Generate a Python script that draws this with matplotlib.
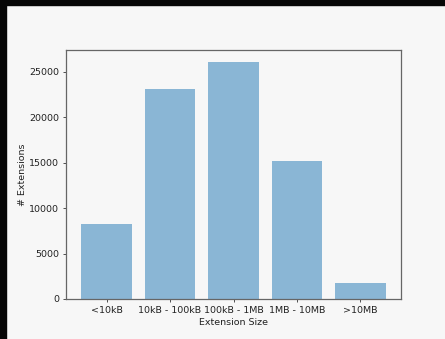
"""Extension size histogram as a bar chart."""

import matplotlib

matplotlib.use("Agg")
import matplotlib.pyplot as plt
from matplotlib.patches import Rectangle

SIZE_BINS = ["<10kB", "10kB - 100kB", "100kB - 1MB", "1MB - 10MB", ">10MB"]
EXTENSION_COUNTS = [8200, 23100, 26100, 15200, 1800]

BG = "#f7f7f7"
FONT_SIZE = 6.8
TEXT = "#222222"

if __name__ == "__main__":
    fig = plt.figure(figsize=(4.45, 3.39), dpi=100, facecolor=BG)
    # dark frame on the top and left edges of the screenshot
    fig.patches.append(
        Rectangle((0, 0), 6 / 445, 1, transform=fig.transFigure, color="#070707", zorder=10)
    )
    fig.patches.append(
        Rectangle((0, 1 - 5 / 339), 1, 5 / 339, transform=fig.transFigure, color="#070707", zorder=10)
    )

    ax = fig.add_axes([66 / 445, 40 / 339, 335 / 445, 249 / 339])
    ax.set_facecolor(BG)
    ax.bar(range(len(SIZE_BINS)), EXTENSION_COUNTS, alpha=0.5, color="tab:blue")
    ax.set_xticks(range(len(SIZE_BINS)), SIZE_BINS)
    ax.set_xlabel("Extension Size", fontsize=FONT_SIZE, labelpad=2.5, color=TEXT)
    ax.set_ylabel("# Extensions", fontsize=FONT_SIZE, labelpad=1.5, color=TEXT)
    ax.tick_params(
        labelsize=FONT_SIZE, length=2.4, width=0.6, pad=2.4, color="#333333", labelcolor=TEXT
    )
    for spine in ax.spines.values():
        spine.set_color("#666666")
        spine.set_linewidth(0.9)

    fig.savefig("out.png", dpi=100, facecolor=BG)
